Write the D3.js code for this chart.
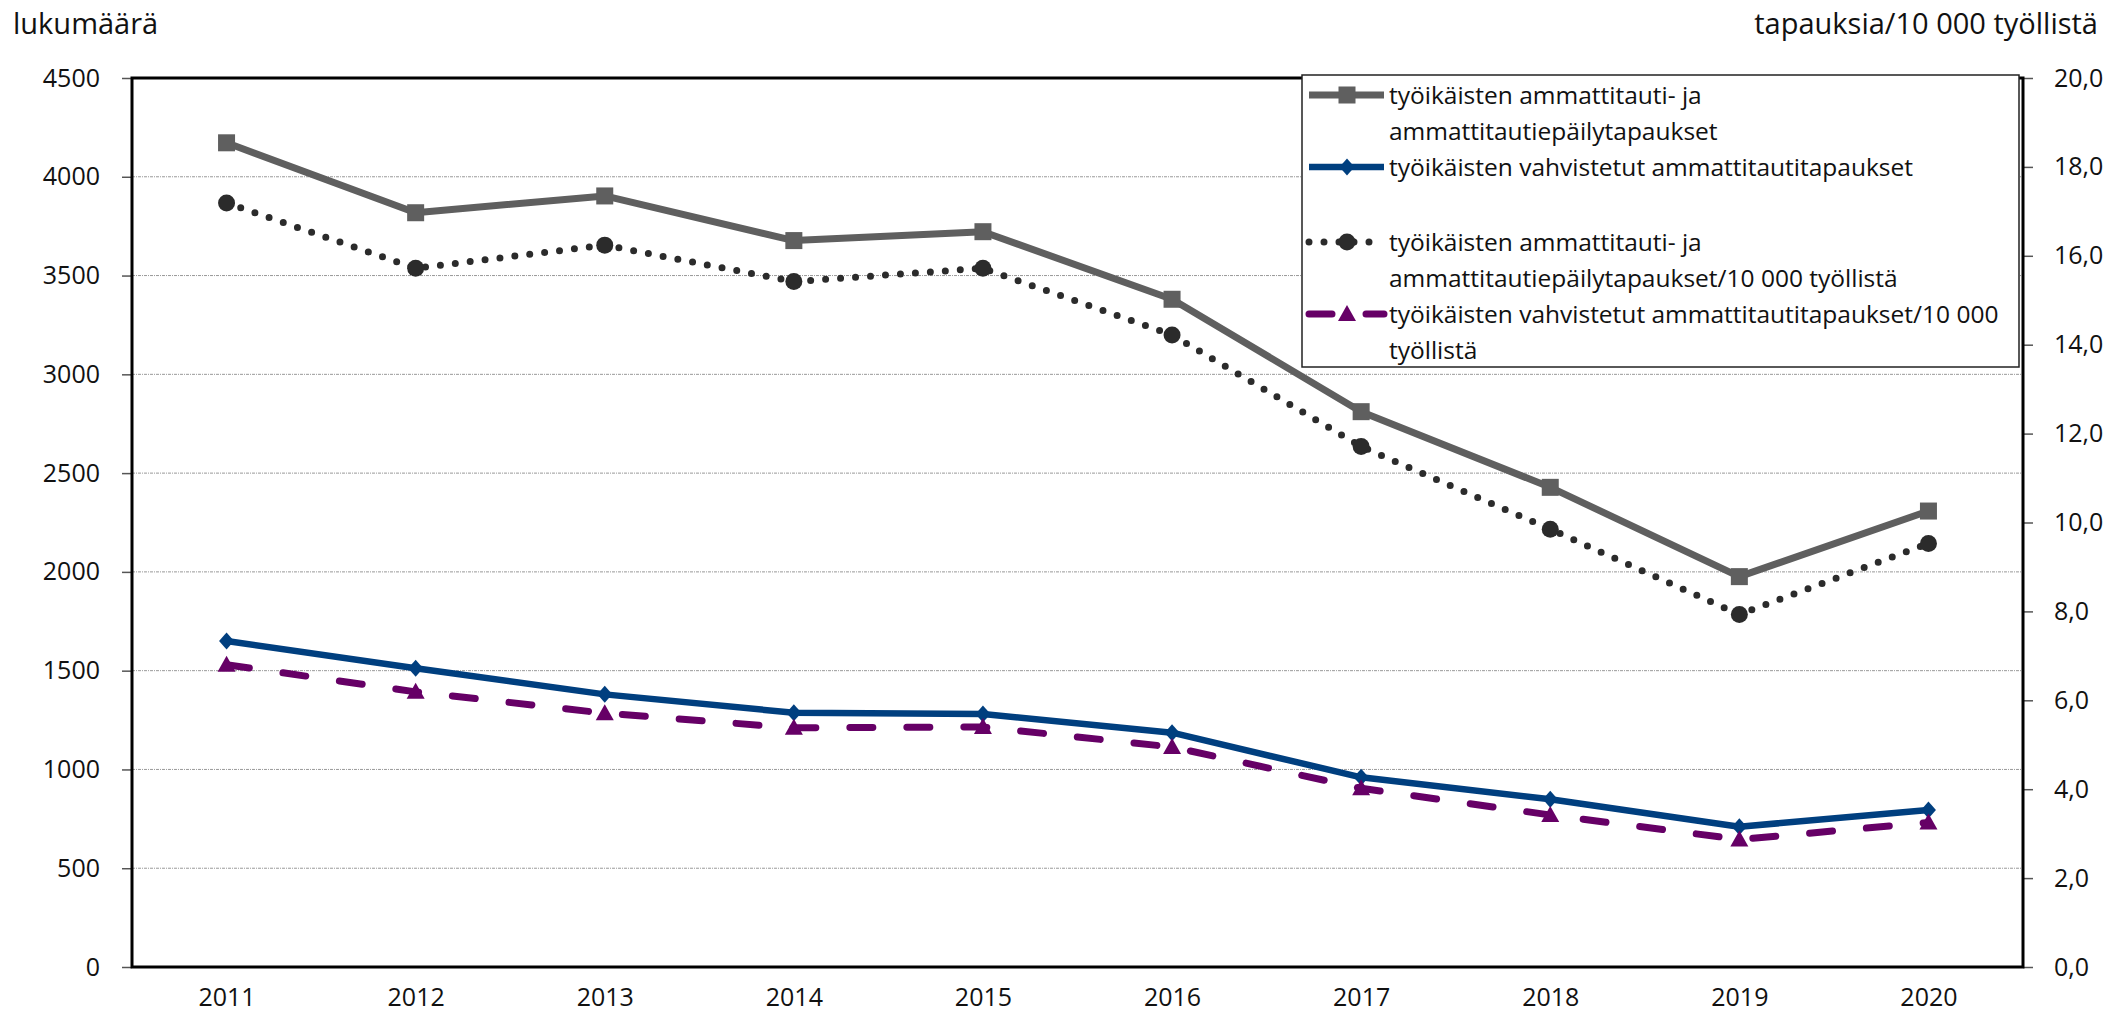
<!DOCTYPE html>
<html><head><meta charset="utf-8">
<script src="https://cdn.jsdelivr.net/npm/d3@7"></script>
<style>
html,body{margin:0;padding:0;background:#fff;}
svg{display:block;font-family:"Open Sans",sans-serif;}
</style></head>
<body>
<svg id="chart" width="2111" height="1024"></svg>
<script>
const years = [2011, 2012, 2013, 2014, 2015, 2016, 2017, 2018, 2019, 2020];
const suspectedCases = [4172, 3818, 3903, 3677, 3722, 3380, 2811, 2428, 1976, 2308];
const confirmedCases = [1650, 1512, 1380, 1287, 1281, 1186, 960, 849, 710, 795];
const suspectedRate = [17.19, 15.72, 16.24, 15.42, 15.72, 14.22, 11.71, 9.85, 7.93, 9.53];
const confirmedRate = [6.8, 6.19, 5.71, 5.38, 5.4, 4.95, 4.02, 3.42, 2.87, 3.25];
const leftTicks = [0, 500, 1000, 1500, 2000, 2500, 3000, 3500, 4000, 4500];
const rightTicks = [0, 2, 4, 6, 8, 10, 12, 14, 16, 18, 20];
const leftTitle = "lukumäärä";
const rightTitle = "tapauksia/10 000 työllistä";
const legendLabels = [
  ["työikäisten ammattitauti- ja", "ammattitautiepäilytapaukset"],
  ["työikäisten vahvistetut ammattitautitapaukset"],
  ["työikäisten ammattitauti- ja", "ammattitautiepäilytapaukset/10 000 työllistä"],
  ["työikäisten vahvistetut ammattitautitapaukset/10 000", "työllistä"]
];

const L = 132, R = 2023, T = 78, B = 967;
const svg = d3.select("#chart");
const x = d3.scalePoint().domain(years).range([L, R]).padding(0.5);
const yL = d3.scaleLinear().domain([0, 4500]).range([B, T]);
const yR = d3.scaleLinear().domain([0, 20]).range([B, T]);

// gridlines
svg.append("g").selectAll("line").data(leftTicks.slice(1, -1)).join("line")
  .attr("x1", L).attr("x2", R).attr("y1", d => yL(d)).attr("y2", d => yL(d))
  .attr("stroke", "#999").attr("stroke-width", 1).attr("stroke-dasharray", "3,1,1,1");

// left axis
const la = svg.append("g").attr("transform", `translate(${L},0)`)
  .call(d3.axisLeft(yL).tickValues(leftTicks).tickSize(10).tickSizeOuter(0).tickPadding(22)
    .tickFormat(d3.format("d")));
la.select(".domain").remove();
la.selectAll("line").attr("stroke", "#555").attr("stroke-width", 1.5);
la.selectAll("text").attr("font-size", 25).attr("fill", "#111").attr("font-family", "Open Sans");

// right axis
const ra = svg.append("g").attr("transform", `translate(${R},0)`)
  .call(d3.axisRight(yR).tickValues(rightTicks).tickSize(10).tickSizeOuter(0).tickPadding(21)
    .tickFormat(d => d3.format(".1f")(d).replace(".", ",")));
ra.select(".domain").remove();
ra.selectAll("line").attr("stroke", "#555").attr("stroke-width", 1.5);
ra.selectAll("text").attr("font-size", 25).attr("fill", "#111").attr("font-family", "Open Sans");

// bottom axis labels
const ba = svg.append("g").attr("transform", `translate(0,${B})`)
  .call(d3.axisBottom(x).tickSize(0).tickPadding(21));
ba.select(".domain").remove();
ba.selectAll("text").attr("font-size", 25).attr("fill", "#111").attr("font-family", "Open Sans");

// plot border
svg.append("rect").attr("x", L).attr("y", T).attr("width", R - L).attr("height", B - T)
  .attr("fill", "none").attr("stroke", "#000").attr("stroke-width", 3);

// titles
svg.append("text").attr("x", 13).attr("y", 34).attr("font-size", 29).attr("fill", "#111").text(leftTitle);
svg.append("text").attr("x", 2098).attr("y", 34).attr("text-anchor", "end").attr("font-size", 29).attr("fill", "#111").text(rightTitle);

const gray = "#5f5f5f", blue = "#003f7f", black = "#2b2b2b", purple = "#660066";

function squareSym(g, cx, cy) {
  g.append("rect").attr("x", cx - 8.5).attr("y", cy - 8.5).attr("width", 17).attr("height", 17).attr("fill", gray);
}
function diamondSym(g, cx, cy) {
  g.append("path").attr("d", `M${cx},${cy - 8.5}L${cx + 7.5},${cy}L${cx},${cy + 8.5}L${cx - 7.5},${cy}Z`).attr("fill", blue);
}
function circleSym(g, cx, cy) {
  g.append("circle").attr("cx", cx).attr("cy", cy).attr("r", 8.5).attr("fill", black);
}
function triSym(g, cx, cy) {
  g.append("path").attr("d", `M${cx},${cy - 9}L${cx + 9},${cy + 7}L${cx - 9},${cy + 7}Z`).attr("fill", purple);
}

const series = [
  {vals: suspectedCases, y: yL, color: gray, width: 7, dash: null, cap: "butt", sym: squareSym},
  {vals: confirmedCases, y: yL, color: blue, width: 6.5, dash: null, cap: "butt", sym: diamondSym},
  {vals: suspectedRate, y: yR, color: black, width: 7, dash: "0,15", cap: "round", sym: circleSym},
  {vals: confirmedRate, y: yR, color: purple, width: 7, dash: "23,34", cap: "round", sym: triSym}
];

const plotG = svg.append("g");
series.forEach(s => {
  const line = d3.line().x((d, i) => x(years[i])).y(d => s.y(d));
  plotG.append("path").attr("d", line(s.vals)).attr("fill", "none")
    .attr("stroke", s.color).attr("stroke-width", s.width)
    .attr("stroke-linecap", s.cap).attr("stroke-linejoin", "round")
    .attr("stroke-dasharray", s.dash);
  const mg = plotG.append("g");
  s.vals.forEach((v, i) => s.sym(mg, x(years[i]), s.y(v)));
});

// legend
const lg = svg.append("g");
lg.append("rect").attr("x", 1302).attr("y", 75).attr("width", 717).attr("height", 292)
  .attr("fill", "#fff").attr("stroke", "#222").attr("stroke-width", 1.5);
const rowY = [95, 167, 242, 314];
series.forEach((s, k) => {
  const cy = rowY[k];
  lg.append("line").attr("x1", 1309).attr("x2", 1384).attr("y1", cy).attr("y2", cy)
    .attr("stroke", s.color).attr("stroke-width", s.width)
    .attr("stroke-linecap", s.cap).attr("stroke-dasharray", s.dash);
  s.sym(lg, 1347, cy);
  legendLabels[k].forEach((t, j) => {
    lg.append("text").attr("x", 1389).attr("y", cy + 9 + j * 36)
      .attr("font-size", 24.5).attr("fill", "#111").text(t);
  });
});
</script>
</body></html>
